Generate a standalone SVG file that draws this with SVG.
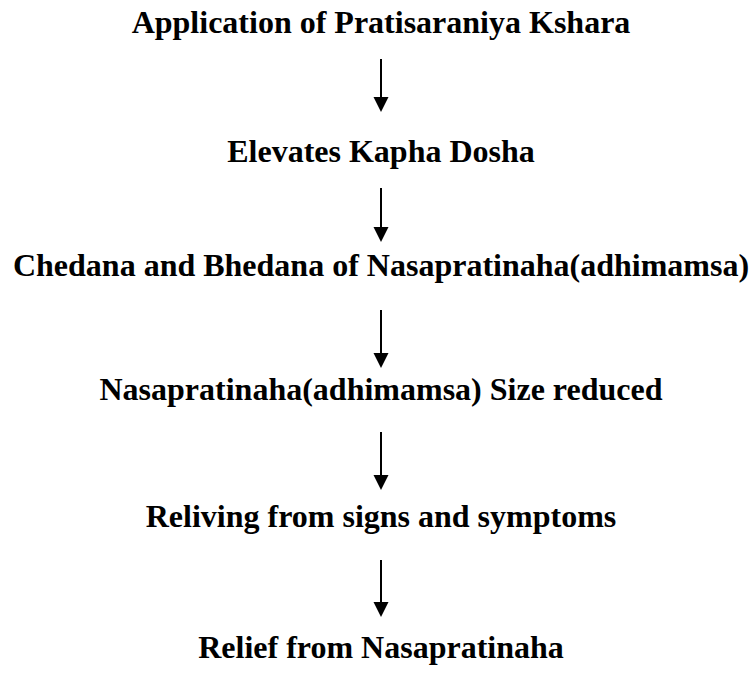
<svg xmlns="http://www.w3.org/2000/svg" width="749" height="688" viewBox="0 0 749 688">
<style>
.t{font-family:"Liberation Serif","Times New Roman",serif;font-weight:bold;font-size:32px;fill:#000;text-anchor:middle}
.c{stroke:#000;stroke-width:2;fill:none}
</style>
<rect width="749" height="688" fill="#fff"/>
<g id="n1"><text class="t" x="381" y="33">Application of Pratisaraniya Kshara</text></g>
<g id="n2"><text class="t" x="381" y="162">Elevates Kapha Dosha</text></g>
<g id="n3"><text class="t" x="381" y="276">Chedana and Bhedana of Nasapratinaha(adhimamsa)</text></g>
<g id="n4"><text class="t" x="381" y="400">Nasapratinaha(adhimamsa) Size reduced</text></g>
<g id="n5"><text class="t" x="381" y="527">Reliving from signs and symptoms</text></g>
<g id="n6"><text class="t" x="381" y="658">Relief from Nasapratinaha</text></g>
<g id="connectors">
<path class="c" d="M381,59 V98"/><path d="M373.5,97 H388.5 L381,112 Z"/>
<path class="c" d="M381,188 V228"/><path d="M373.5,227 H388.5 L381,242 Z"/>
<path class="c" d="M381,310 V354"/><path d="M373.5,353 H388.5 L381,368 Z"/>
<path class="c" d="M381,432 V476"/><path d="M373.5,475 H388.5 L381,490 Z"/>
<path class="c" d="M381,560 V603"/><path d="M373.5,602 H388.5 L381,617 Z"/>
</g>
</svg>
